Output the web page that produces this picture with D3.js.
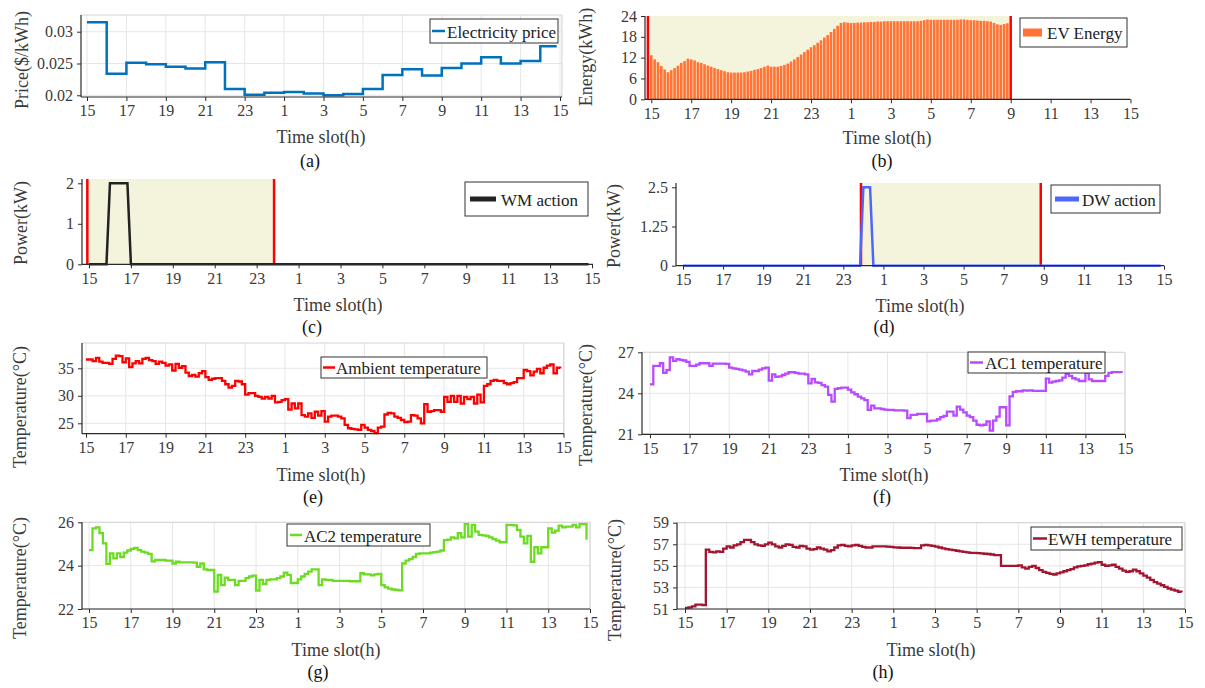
<!DOCTYPE html>
<html>
<head>
<meta charset="utf-8">
<script src="https://cdn.jsdelivr.net/npm/d3@7"></script>
<style>
  body { margin: 0; background: #fff; }
  svg text { font-family: "Liberation Serif", "Times New Roman", serif !important; }
</style>
</head>
<body>
<svg width="1205" height="688"></svg>
<script>
// ---- data (10-minute slots starting at 15:00, 144 per day) ----
const tickHours = [0, 2, 4, 6, 8, 10, 12, 14, 16, 18, 20, 22, 24];
const tickLabels = ["15", "17", "19", "21", "23", "1", "3", "5", "7", "9", "11", "13", "15"];

// hourly price, 15:00 .. 14:00
const price = [0.0315, 0.0234, 0.0251, 0.0249, 0.0245, 0.0242, 0.0252, 0.0210,
  0.0201, 0.0204, 0.0205, 0.0203, 0.0200, 0.0202, 0.0210, 0.0232,
  0.0241, 0.0231, 0.0243, 0.0250, 0.0260, 0.0250, 0.0254, 0.0277];

// EV energy 15:00 .. 08:50
const evEnergy = [
  12.7, 11.5, 10.7, 9.6, 8.6, 7.8, 8.4, 9.0, 9.7, 10.5, 11.0, 11.7,
  11.5, 11.2, 10.7, 10.5, 10.1, 9.7, 9.4, 9.0, 8.7, 8.4, 8.1, 7.8,
  7.7, 7.7, 7.7, 7.7, 7.8, 8.0, 8.2, 8.5, 8.7, 9.0, 9.4, 9.7,
  9.4, 9.4, 9.4, 9.6, 9.9, 10.3, 10.9, 11.5, 12.2, 12.9, 13.6, 14.3,
  15.0, 15.6, 16.3, 17.0, 17.8, 18.5, 19.4, 20.3, 21.2, 22.0, 22.2, 22.1,
  22.0, 22.0, 22.1, 22.1, 22.2, 22.2, 22.3, 22.3, 22.4, 22.4, 22.5, 22.5,
  22.5, 22.5, 22.5, 22.5, 22.5, 22.5, 22.5, 22.5, 22.5, 22.6, 22.8, 23.0,
  22.9, 22.9, 22.9, 22.9, 22.9, 22.9, 22.9, 22.9, 22.9, 23.0, 23.0, 22.9,
  22.8, 22.8, 22.7, 22.6, 22.6, 22.5, 22.4, 22.0, 21.6, 21.4, 21.7, 21.9
];
const evWindow = [-0.17, 18];

const wmAction = [
  0, 0, 0, 0, 0, 0, 2, 2, 2, 2, 2, 2,
  0, 0, 0, 0, 0, 0, 0, 0, 0, 0, 0, 0,
  0, 0, 0, 0, 0, 0, 0, 0, 0, 0, 0, 0,
  0, 0, 0, 0, 0, 0, 0, 0, 0, 0, 0, 0,
  0, 0, 0, 0, 0, 0, 0, 0, 0, 0, 0, 0,
  0, 0, 0, 0, 0, 0, 0, 0, 0, 0, 0, 0,
  0, 0, 0, 0, 0, 0, 0, 0, 0, 0, 0, 0,
  0, 0, 0, 0, 0, 0, 0, 0, 0, 0, 0, 0,
  0, 0, 0, 0, 0, 0, 0, 0, 0, 0, 0, 0,
  0, 0, 0, 0, 0, 0, 0, 0, 0, 0, 0, 0,
  0, 0, 0, 0, 0, 0, 0, 0, 0, 0, 0, 0,
  0, 0, 0, 0, 0, 0, 0, 0, 0, 0, 0, 0
];
const wmWindow = [-0.08, 8.83];

const dwAction = [
  0, 0, 0, 0, 0, 0, 0, 0, 0, 0, 0, 0,
  0, 0, 0, 0, 0, 0, 0, 0, 0, 0, 0, 0,
  0, 0, 0, 0, 0, 0, 0, 0, 0, 0, 0, 0,
  0, 0, 0, 0, 0, 0, 0, 0, 0, 0, 0, 0,
  0, 0, 0, 0, 0, 0, 2.5, 2.5, 2.5, 0, 0, 0,
  0, 0, 0, 0, 0, 0, 0, 0, 0, 0, 0, 0,
  0, 0, 0, 0, 0, 0, 0, 0, 0, 0, 0, 0,
  0, 0, 0, 0, 0, 0, 0, 0, 0, 0, 0, 0,
  0, 0, 0, 0, 0, 0, 0, 0, 0, 0, 0, 0,
  0, 0, 0, 0, 0, 0, 0, 0, 0, 0, 0, 0,
  0, 0, 0, 0, 0, 0, 0, 0, 0, 0, 0, 0,
  0, 0, 0, 0, 0, 0, 0, 0, 0, 0, 0, 0
];
const dwWindow = [8.88, 17.85];

const ambientTemp = [
  36.6, 36.6, 36.3, 36.9, 36.2, 36.0,
  36.0, 35.8, 36.7, 37.3, 37.2, 36.1,
  36.8, 35.2, 35.9, 36.3, 35.9, 36.7,
  36.9, 36.5, 36.3, 35.8, 36.2, 36.0,
  35.5, 35.7, 34.6, 35.8, 35.1, 35.4,
  34.2, 33.6, 33.8, 33.5, 34.1, 34.5,
  33.4, 32.9, 33.1, 33.2, 33.2, 32.7,
  32.1, 31.5, 31.8, 32.7, 32.6, 32.1,
  30.2, 30.5, 30.5, 30.0, 29.8, 29.5,
  29.8, 29.5, 30.0, 28.8, 28.9, 29.2,
  29.4, 27.5, 28.6, 27.7, 28.6, 26.5,
  26.2, 26.8, 26.0, 27.1, 26.4, 27.2,
  25.3, 26.2, 26.4, 26.4, 26.2, 25.9,
  24.7, 24.1, 24.0, 23.9, 23.8, 24.7,
  24.2, 23.8, 23.6, 23.2, 24.2, 24.4,
  26.6, 26.9, 26.8, 26.2, 26.0, 25.6,
  25.2, 25.3, 26.5, 26.4, 25.9, 25.0,
  28.5, 27.1, 27.2, 27.4, 27.4, 27.1,
  29.8, 28.9, 30.0, 28.9, 30.0, 28.6,
  29.8, 29.4, 29.8, 28.6, 30.2, 28.8,
  31.8, 32.1, 32.7, 32.9, 32.7, 32.7,
  32.3, 32.1, 32.3, 32.5, 33.2, 33.2,
  34.7, 34.5, 33.7, 34.4, 34.9, 34.1,
  35.1, 35.5, 35.7, 34.1, 35.1, 35.0
];

const ac1Temp = [
  24.66, 26.0, 26.0, 26.2, 25.5, 25.7,
  26.63, 26.37, 26.5, 26.44, 26.4, 26.3,
  26.0, 26.0, 26.1, 26.2, 26.2, 26.2,
  26.0, 26.17, 26.17, 26.17, 26.17, 26.15,
  25.88, 25.83, 25.78, 25.73, 25.68, 25.59,
  25.39, 25.63, 25.63, 25.73, 25.83, 25.88,
  24.93, 25.39, 25.2, 25.24, 25.34, 25.44,
  25.54, 25.54, 25.49, 25.44, 25.44, 25.39,
  24.73, 25.05, 24.8, 24.76, 24.6, 24.49,
  23.88, 23.39, 24.32, 24.37, 24.41, 24.41,
  24.27, 24.07, 23.93, 23.76, 23.63, 23.5,
  22.78, 23.1, 22.9, 22.9, 22.85, 22.8,
  22.78, 22.78, 22.75, 22.75, 22.75, 22.73,
  22.18, 22.42, 22.42, 22.49, 22.49, 22.49,
  21.94, 22.0, 22.0, 22.1, 22.25, 22.35,
  22.66, 22.66, 22.37, 23.02, 22.8, 22.6,
  22.37, 22.25, 22.0, 21.7, 21.65, 21.7,
  21.94, 21.27, 22.0, 22.3, 22.98, 22.98,
  21.65, 23.77, 24.1, 24.15, 24.15, 24.22,
  24.2, 24.22, 24.18, 24.18, 24.18, 24.18,
  25.07, 24.78, 24.85, 24.9, 24.95, 25.14,
  25.43, 25.27, 25.1, 25.02, 24.9, 24.9,
  25.5, 25.02, 24.9, 24.9, 24.9, 24.9,
  25.27, 25.5, 25.55, 25.55, 25.55, 25.5
];

const ac2Temp = [
  24.72, 25.72, 25.77, 25.5, 25.03, 24.08,
  24.57, 24.34, 24.57, 24.4, 24.6, 24.7,
  24.77, 24.82, 24.72, 24.65, 24.6, 24.54,
  24.2, 24.26, 24.26, 24.26, 24.23, 24.23,
  24.1, 24.18, 24.15, 24.15, 24.15, 24.15,
  24.14, 23.95, 24.1, 23.83, 23.8, 23.8,
  22.8, 23.57, 23.1, 23.45, 23.34, 23.34,
  23.1, 23.3, 23.3, 23.42, 23.5, 23.54,
  22.85, 23.34, 23.15, 23.34, 23.37, 23.37,
  23.42, 23.5, 23.68, 23.57, 23.2, 23.2,
  23.37, 23.5, 23.62, 23.72, 23.83, 23.83,
  23.1, 23.37, 23.34, 23.34, 23.3, 23.3,
  23.3, 23.3, 23.3, 23.28, 23.28, 23.28,
  23.65, 23.6, 23.6, 23.55, 23.6, 23.62,
  23.1, 23.0, 22.94, 22.9, 22.88, 22.86,
  24.1, 24.23, 24.3, 24.4, 24.54, 24.57,
  24.57, 24.57, 24.6, 24.62, 24.65, 24.7,
  25.18, 25.2, 25.3, 25.26, 25.5, 25.3,
  25.92, 25.34, 25.88, 25.57, 25.42, 25.4,
  25.37, 25.3, 25.22, 25.15, 25.08, 25.08,
  25.88, 25.88, 25.86, 25.65, 25.34, 25.03,
  25.37, 24.18, 24.85, 24.57, 24.85, 24.85,
  25.72, 25.52, 25.62, 25.85, 25.77, 25.8,
  25.8, 25.88, 25.77, 25.92, 25.92, 25.2
];

const ewhTemp = [
  51.1, 51.15, 51.25, 51.4, 51.4, 51.35,
  56.5, 56.3, 56.25, 56.35, 56.3, 56.6,
  56.8, 56.7, 56.9, 57.0, 57.2, 57.4,
  57.4, 57.2, 57.0, 56.9, 56.85, 57.0,
  57.15, 57.0, 56.8, 56.7, 56.85, 57.0,
  56.95, 56.75, 56.7, 56.85, 56.8, 56.6,
  56.5, 56.55, 56.7, 56.6, 56.5, 56.35,
  56.45, 56.7, 56.9, 56.95, 56.85, 56.8,
  56.9, 56.95, 56.85, 56.75, 56.7, 56.7,
  56.8, 56.8, 56.8, 56.8, 56.78, 56.75,
  56.72, 56.7, 56.68, 56.68, 56.68, 56.66,
  56.65, 56.65, 56.9, 56.95, 56.9, 56.85,
  56.78, 56.7, 56.62, 56.55, 56.5, 56.45,
  56.4, 56.35, 56.3, 56.25, 56.2, 56.2,
  56.18, 56.15, 56.12, 56.1, 56.05, 56.0,
  56.0, 55.0, 55.0, 55.0, 55.0, 55.0,
  55.05, 54.85, 54.75, 54.9, 55.0, 54.8,
  54.6, 54.45, 54.35, 54.25, 54.2, 54.3,
  54.4, 54.5, 54.6, 54.7, 54.85, 54.95,
  55.0, 55.05, 55.15, 55.2, 55.3, 55.35,
  55.1, 55.0, 55.05, 55.1, 54.9, 54.75,
  54.55, 54.45, 54.5, 54.65, 54.5, 54.3,
  54.1, 53.9, 53.7, 53.5, 53.35, 53.2,
  53.05, 52.9, 52.8, 52.7, 52.6, 52.55
];

// ---- drawing ----
const svg = d3.select("svg");
const serif = "Liberation Serif, Times New Roman, serif";
const axisColor = "#2b2b2b";
const textColor = "#3a3a3a";
const gridColor = "#e6e6e6";
const beige = "#f4f4dc";
const slotH = (i) => i / 6;

function makePanel(p) {
  const g = svg.append("g");
  const x = d3.scaleLinear().domain([0, 24]).range([p.x0, p.x24]);
  const y = d3.scaleLinear().domain(p.yDomain).range([p.yBot, p.yTop]);

  if (p.grid) {
    g.append("g").selectAll("line").data(tickHours).join("line")
      .attr("x1", (d) => x(d)).attr("x2", (d) => x(d))
      .attr("y1", p.yTop).attr("y2", p.yBot)
      .attr("stroke", gridColor).attr("stroke-width", 1);
    g.append("g").selectAll("line").data(p.yTicks).join("line")
      .attr("x1", p.axisX).attr("x2", p.xEnd)
      .attr("y1", (d) => y(d)).attr("y2", (d) => y(d))
      .attr("stroke", gridColor).attr("stroke-width", 1);
    g.append("path")
      .attr("d", `M${p.axisX},${p.yTop}H${p.xEnd}V${p.yBot}`)
      .attr("fill", "none").attr("stroke", "#d4d4d4");
  }
  return { g, x, y };
}

function drawAxes(p, g, x, y) {
  const ax = g.append("g").attr("transform", `translate(0,${p.yBot})`)
    .call(d3.axisBottom(x).tickValues(tickHours)
      .tickFormat((d, i) => tickLabels[i]).tickSize(4).tickPadding(4).tickSizeOuter(0));
  ax.select(".domain").remove();
  const ay = g.append("g").attr("transform", `translate(${p.axisX},0)`)
    .call(d3.axisLeft(y).tickValues(p.yTicks).tickFormat(p.yFormat)
      .tickSize(4).tickPadding(4).tickSizeOuter(0));
  ay.select(".domain").remove();
  [ax, ay].forEach((a) => {
    a.attr("font-family", serif).attr("font-size", 16);
    a.selectAll("line").attr("stroke", axisColor);
    a.selectAll("text").attr("fill", textColor)
      .attr("font-family", serif).attr("font-size", 16);
  });
  g.append("line").attr("x1", p.axisX).attr("x2", p.xEnd)
    .attr("y1", p.yBot).attr("y2", p.yBot).attr("stroke", axisColor).attr("stroke-width", 1.2);
  g.append("line").attr("x1", p.axisX).attr("x2", p.axisX)
    .attr("y1", p.yTop).attr("y2", p.yBot).attr("stroke", axisColor).attr("stroke-width", 1.2);

  g.append("text").text("Time slot(h)")
    .attr("x", p.titleX).attr("y", p.titleY)
    .attr("text-anchor", "middle").attr("dominant-baseline", "central")
    .attr("fill", textColor).attr("font-size", 18);
  g.append("text").text(p.tag)
    .attr("x", p.tagX).attr("y", p.tagY)
    .attr("text-anchor", "middle").attr("dominant-baseline", "central")
    .attr("fill", "#111").attr("font-size", 18);
  g.append("text").text(p.yTitle)
    .attr("transform", `translate(${p.yTitleX},${p.yTitleY}) rotate(-90)`)
    .attr("text-anchor", "middle").attr("dominant-baseline", "central")
    .attr("fill", textColor).attr("font-size", 18);
}

function drawWindow(p, g, x, win) {
  g.append("rect").attr("x", x(win[0])).attr("y", p.yTop)
    .attr("width", x(win[1]) - x(win[0])).attr("height", p.yBot - p.yTop)
    .attr("fill", beige);
  g.append("g").selectAll("line").data(win).join("line")
    .attr("x1", (d) => x(d)).attr("x2", (d) => x(d))
    .attr("y1", p.yTop).attr("y2", p.yBot)
    .attr("stroke", "#ff0000").attr("stroke-width", 2.5);
}

function drawLegend(g, L) {
  g.append("rect").attr("x", L.box[0]).attr("y", L.box[1])
    .attr("width", L.box[2] - L.box[0]).attr("height", L.box[3] - L.box[1])
    .attr("fill", "#fff").attr("stroke", "#333").attr("stroke-width", 1);
  const cy = (L.box[1] + L.box[3]) / 2;
  if (L.patch) {
    g.append("rect").attr("x", L.sample[0]).attr("y", cy - 4)
      .attr("width", L.sample[1] - L.sample[0]).attr("height", 8).attr("fill", L.color);
  } else {
    g.append("line").attr("x1", L.sample[0]).attr("x2", L.sample[1])
      .attr("y1", cy).attr("y2", cy).attr("stroke", L.color).attr("stroke-width", L.width);
  }
  g.append("text").text(L.text).attr("x", L.textX).attr("y", cy + 1)
    .attr("dominant-baseline", "central").attr("fill", "#222").attr("font-size", 17);
}

function stairs(g, x, y, values, color) {
  const pts = values.map((v, i) => [slotH(i), v]);
  g.append("path").datum(pts)
    .attr("d", d3.line().x((d) => x(d[0])).y((d) => y(d[1])).curve(d3.curveStepAfter))
    .attr("fill", "none").attr("stroke", color).attr("stroke-width", 2.3)
    .attr("stroke-linejoin", "miter");
}

// (a) electricity price
{
  const p = { axisX: 81, x0: 87, x24: 560, xEnd: 562, yTop: 15, yBot: 97,
    yDomain: [0.01973, 0.03263], yTicks: [0.02, 0.025, 0.03], yFormat: (d) => d3.format("")(d),
    grid: true, titleX: 321, titleY: 137, tag: "(a)", tagX: 310, tagY: 161,
    yTitle: "Price($/kWh)", yTitleX: 22, yTitleY: 60 };
  const { g, x, y } = makePanel(p);
  const pts = price.map((v, i) => [i, v]);
  pts.push([slotH(143), price[price.length - 1]]);
  g.append("path").datum(pts)
    .attr("d", d3.line().x((d) => x(d[0])).y((d) => y(d[1])).curve(d3.curveStepAfter))
    .attr("fill", "none").attr("stroke", "#0072bd").attr("stroke-width", 2.5);
  drawAxes(p, g, x, y);
  drawLegend(g, { box: [430, 19, 558, 43], sample: [432, 445], textX: 447,
    color: "#0072bd", width: 2.5, text: "Electricity price" });
}

// (b) EV energy
{
  const p = { axisX: 645, x0: 651.3, x24: 1130.5, xEnd: 1130.5, yTop: 16, yBot: 99.3,
    yDomain: [0, 24], yTicks: [0, 6, 12, 18, 24], yFormat: (d) => d,
    grid: false, titleX: 887, titleY: 138, tag: "(b)", tagX: 882, tagY: 161,
    yTitle: "Energy(kWh)", yTitleX: 586, yTitleY: 57 };
  const { g, x, y } = makePanel(p);
  g.append("rect").attr("x", x(evWindow[0])).attr("y", p.yTop)
    .attr("width", x(evWindow[1]) - x(evWindow[0])).attr("height", p.yBot - p.yTop)
    .attr("fill", beige);
  const bw = (x(1) - x(0)) / 6 * 0.8;
  g.append("g").selectAll("rect").data(evEnergy).join("rect")
    .attr("x", (d, i) => x(slotH(i)) - bw / 2).attr("width", bw)
    .attr("y", (d) => y(d)).attr("height", (d) => y(0) - y(d))
    .attr("fill", "#ff7436");
  g.append("g").selectAll("line").data(evWindow).join("line")
    .attr("x1", (d) => x(d)).attr("x2", (d) => x(d))
    .attr("y1", p.yTop).attr("y2", p.yBot)
    .attr("stroke", "#ff0000").attr("stroke-width", 2.5);
  drawAxes(p, g, x, y);
  drawLegend(g, { box: [1020, 18, 1127, 47], sample: [1023, 1042], textX: 1047, patch: true,
    color: "#ff7436", text: "EV Energy" });
}

// (c) WM action
{
  const p = { axisX: 82, x0: 89, x24: 592, xEnd: 593, yTop: 179, yBot: 264.3,
    yDomain: [0, 2.106], yTicks: [0, 1, 2], yFormat: (d) => d,
    grid: false, titleX: 338, titleY: 305, tag: "(c)", tagX: 312, tagY: 327,
    yTitle: "Power(kW)", yTitleX: 21, yTitleY: 223 };
  const { g, x, y } = makePanel(p);
  drawWindow(p, g, x, wmWindow);
  g.append("path").datum(wmAction)
    .attr("d", d3.line().x((d, i) => x(slotH(i))).y((d) => y(d)))
    .attr("fill", "none").attr("stroke", "#222").attr("stroke-width", 2.5);
  drawAxes(p, g, x, y);
  drawLegend(g, { box: [465, 182, 588, 216], sample: [470, 496], textX: 501,
    color: "#222", width: 5, text: "WM action" });
}

// (d) DW action
{
  const p = { axisX: 676, x0: 683, x24: 1164, xEnd: 1164, yTop: 183, yBot: 265.7,
    yDomain: [0, 2.637], yTicks: [0, 1.25, 2.5], yFormat: (d) => d,
    grid: false, titleX: 920, titleY: 306, tag: "(d)", tagX: 884, tagY: 327,
    yTitle: "Power(kW)", yTitleX: 614, yTitleY: 226 };
  const { g, x, y } = makePanel(p);
  drawWindow(p, g, x, dwWindow);
  g.append("path").datum(dwAction)
    .attr("d", d3.line().x((d, i) => x(slotH(i))).y((d) => y(d)))
    .attr("fill", "none").attr("stroke", "#4d66ff").attr("stroke-width", 2.5);
  drawAxes(p, g, x, y);
  drawLegend(g, { box: [1051, 185, 1160, 213], sample: [1055, 1079], textX: 1082,
    color: "#4d66ff", width: 5, text: "DW action" });
}

// (e) ambient temperature
{
  const p = { axisX: 82, x0: 86, x24: 563.5, xEnd: 564, yTop: 343, yBot: 433.7,
    yDomain: [23.11, 39.6], yTicks: [25, 30, 35], yFormat: (d) => d,
    grid: true, titleX: 321, titleY: 475, tag: "(e)", tagX: 313, tagY: 497,
    yTitle: "Temperature(°C)", yTitleX: 20, yTitleY: 407 };
  const { g, x, y } = makePanel(p);
  stairs(g, x, y, ambientTemp, "#ff0000");
  drawAxes(p, g, x, y);
  drawLegend(g, { box: [321, 357, 487, 378], sample: [323, 335], textX: 336,
    color: "#ff0000", width: 2.5, text: "Ambient temperature" });
}

// (f) AC1 temperature
{
  const p = { axisX: 642, x0: 650, x24: 1125, xEnd: 1125, yTop: 352.3, yBot: 434.3,
    yDomain: [21, 27], yTicks: [21, 24, 27], yFormat: (d) => d,
    grid: true, titleX: 884, titleY: 475, tag: "(f)", tagX: 882, tagY: 497,
    yTitle: "Temperature(°C)", yTitleX: 586, yTitleY: 405 };
  const { g, x, y } = makePanel(p);
  stairs(g, x, y, ac1Temp, "#b84aff");
  drawAxes(p, g, x, y);
  drawLegend(g, { box: [968, 352, 1105, 373], sample: [970, 983], textX: 985,
    color: "#b84aff", width: 2.5, text: "AC1 temperature" });
}

// (g) AC2 temperature
{
  const p = { axisX: 82, x0: 89, x24: 590, xEnd: 590, yTop: 522.3, yBot: 609,
    yDomain: [22, 26], yTicks: [22, 24, 26], yFormat: (d) => d,
    grid: true, titleX: 336, titleY: 650, tag: "(g)", tagX: 318, tagY: 672,
    yTitle: "Temperature(°C)", yTitleX: 20, yTitleY: 578 };
  const { g, x, y } = makePanel(p);
  stairs(g, x, y, ac2Temp, "#6cdc22");
  drawAxes(p, g, x, y);
  drawLegend(g, { box: [287, 524, 430, 546], sample: [290, 302], textX: 304,
    color: "#6cdc22", width: 2.5, text: "AC2 temperature" });
}

// (h) EWH temperature
{
  const p = { axisX: 677, x0: 685, x24: 1185, xEnd: 1185, yTop: 522.7, yBot: 609,
    yDomain: [51, 59], yTicks: [51, 53, 55, 57, 59], yFormat: (d) => d,
    grid: true, titleX: 931, titleY: 650, tag: "(h)", tagX: 883, tagY: 672,
    yTitle: "Temperature(°C)", yTitleX: 615, yTitleY: 580 };
  const { g, x, y } = makePanel(p);
  stairs(g, x, y, ewhTemp, "#a2142f");
  drawAxes(p, g, x, y);
  drawLegend(g, { box: [1031, 527, 1182, 550], sample: [1033, 1047], textX: 1048,
    color: "#a2142f", width: 2.5, text: "EWH temperature" });
}
</script>
</body>
</html>
